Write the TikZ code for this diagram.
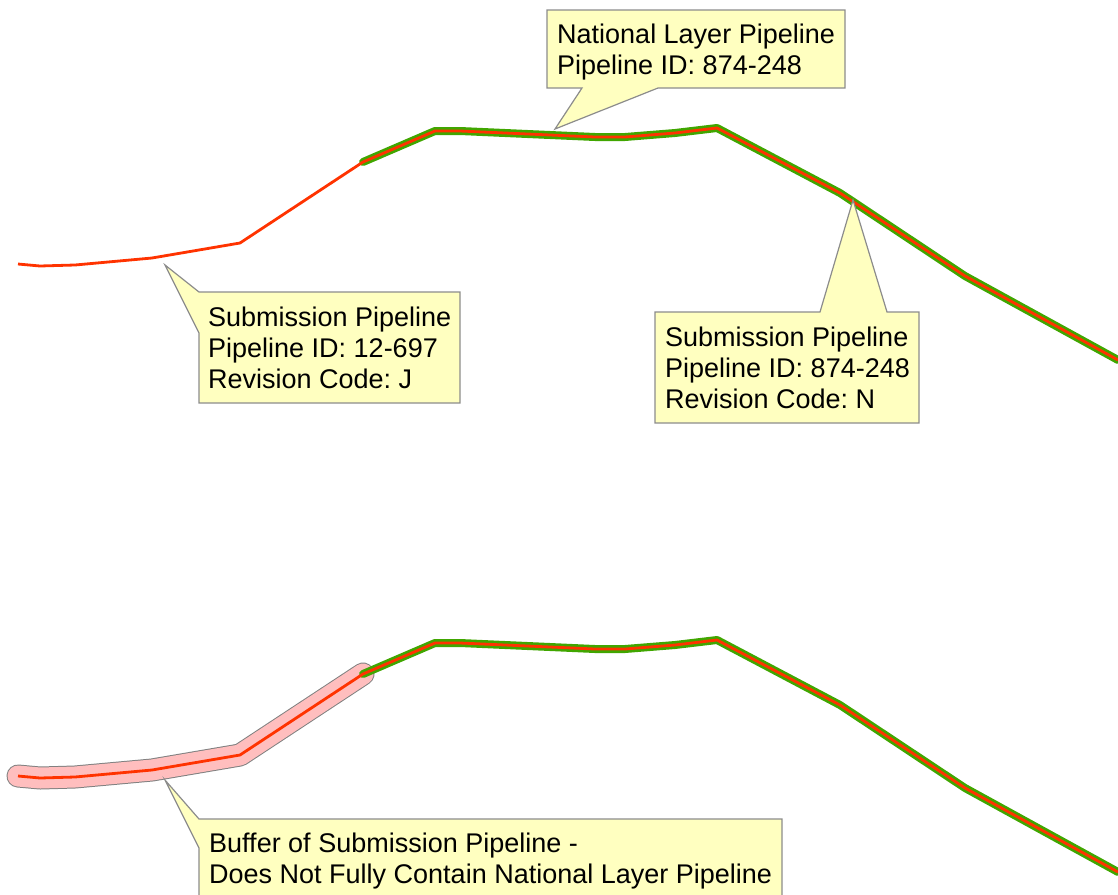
\documentclass[tikz,border=0pt]{standalone}
\usepackage{fontspec}
\setmainfont{Liberation Sans}
\frenchspacing
\definecolor{pipered}{RGB}{255,51,0}
\definecolor{pipegreen}{RGB}{64,166,0}
\definecolor{bufpink}{RGB}{255,190,190}
\definecolor{bufgray}{RGB}{128,128,128}
\definecolor{tipfill}{RGB}{255,255,192}
\definecolor{tipdraw}{RGB}{140,140,140}
\tikzset{
  natline/.style={draw=pipegreen, line width=8, line join=round, line cap=round},
  subline/.style={draw=pipered, line width=2.8, line join=round},
  bufout/.style={draw=bufgray, line width=23, line join=round, line cap=round},
  bufin/.style={draw=bufpink, line width=21, line join=round, line cap=round},
  tipbox/.style={fill=tipfill, draw=tipdraw, line width=1.2, line join=miter},
  tiptext/.style={anchor=base west, inner sep=0, align=left,
    font=\fontsize{27}{31}\selectfont\frenchspacing, text=black},
}
\begin{document}
\begin{tikzpicture}[x=1pt,y=-1pt]
\useasboundingbox (0,0) rectangle (1118,894);
\clip (0,0) rectangle (1118,894);

% ---------- top pipelines ----------
\coordinate (tA) at (18,264);
\coordinate (tG) at (363,162);
\coordinate (tE) at (1118,360);
\coordinate (tip1) at (555,129);
\coordinate (tip2) at (165,265);
\coordinate (tip3) at (853,200);

\draw[natline] (tG) -- (435,131) -- (460,131) -- (505,133) -- (550,135) -- (595,137) -- (625,137) -- (675,133) -- (717,128) -- (840,193) -- (965,276) -- (tE);
\draw[subline] (tA) -- (40,266) -- (75,265) -- (152,258) -- (240,243) -- (tG) -- (435,131) -- (460,131) -- (505,133) -- (550,135) -- (595,137) -- (625,137) -- (675,133) -- (717,128) -- (840,193) -- (965,276) -- (tE);

% ---------- bottom pipelines ----------
\coordinate (bA) at (18,776);
\coordinate (bG) at (363,674);
\coordinate (bE) at (1118,872);
\coordinate (tip4) at (165,780);

\draw[bufout] (bA) -- (40,778) -- (75,777) -- (152,770) -- (240,755) -- (bG);
\draw[bufin] (bA) -- (40,778) -- (75,777) -- (152,770) -- (240,755) -- (bG);
\draw[natline] (bG) -- (435,643) -- (460,643) -- (505,645) -- (550,647) -- (595,649) -- (625,649) -- (675,645) -- (717,640) -- (840,705) -- (965,788) -- (bE);
\draw[subline] (bA) -- (40,778) -- (75,777) -- (152,770) -- (240,755) -- (bG) -- (435,643) -- (460,643) -- (505,645) -- (550,647) -- (595,649) -- (625,649) -- (675,645) -- (717,640) -- (840,705) -- (965,788) -- (bE);

% ---------- callouts ----------
\draw[tipbox] (547,10) -- (845,10) -- (845,88) -- (658,88) -- (tip1) -- (582,88) -- (547,88) -- cycle;
\node[tiptext] (c1) at (557,74) {National Layer Pipeline\\Pipeline ID: 874-248};

\draw[tipbox] (199,292) -- (460,292) -- (460,403) -- (199,403) -- (199,333) -- (tip2) -- cycle;
\node[tiptext] (c2) at (208,388) {Submission Pipeline\\Pipeline ID: 12-697\\Revision Code: J};

\draw[tipbox] (655,312) -- (820,312) -- (tip3) -- (887,312) -- (919,312) -- (919,423) -- (655,423) -- cycle;
\node[tiptext] (c3) at (665,408) {Submission Pipeline\\Pipeline ID: 874-248\\Revision Code: N};

\draw[tipbox] (199,819) -- (782,819) -- (782,905) -- (199,905) -- (199,848) -- (tip4) -- cycle;
\node[tiptext] (c4) at (209,883) {Buffer of Submission Pipeline -\\Does Not Fully Contain National Layer Pipeline};
\end{tikzpicture}
\end{document}
